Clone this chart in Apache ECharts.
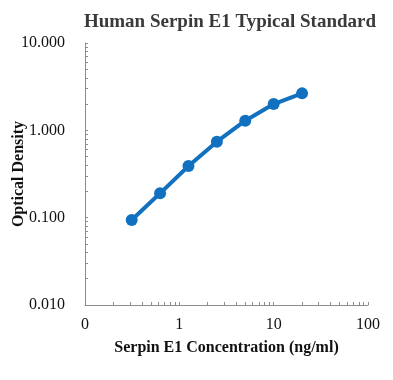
<!DOCTYPE html>
<html><head><meta charset="utf-8">
<script src="https://cdn.jsdelivr.net/npm/echarts@6/dist/echarts.min.js"></script>
<style>html,body{margin:0;padding:0;background:#fff}#c{width:393px;height:380px}</style>
</head><body><div id="c"></div>
<script>
const concentrations = [0.3125, 0.625, 1.25, 2.5, 5, 10, 20];
const opticalDensity = [0.094, 0.190, 0.390, 0.741, 1.29, 2.00, 2.65];
const xTickLabels = [0.1, 1, 10, 100];
const yTickLabels = [0.01, 0.1, 1, 10];

function minorTicks(lo, hi) {
  const out = [];
  for (let d = lo; d < hi * 0.999; d *= 10) {
    for (let k = 1; k <= 10; k++) out.push(+(d * k).toPrecision(6));
  }
  return Array.from(new Set(out));
}

const chart = echarts.init(document.getElementById('c'));
const serif = '"Liberation Serif","Times New Roman",serif';
chart.setOption({
  animation: false,
  title: {
    text: 'Human Serpin E1 Typical Standard',
    left: 225, top: 8, textAlign: 'center',
    textStyle: { fontFamily: serif, fontWeight: 'bold', fontSize: 19, color: '#3a3a3a' }
  },
  grid: { left: 85, right: 25, top: 43, bottom: 75, containLabel: false, outerBoundsMode: 'none' },
  xAxis: {
    type: 'log', logBase: 10, min: 0.1, max: 100,
    name: 'Serpin E1 Concentration (ng/ml)', nameLocation: 'middle', nameGap: 35, nameMoveOverlap: false,
    nameTextStyle: { fontFamily: serif, fontWeight: 'bold', fontSize: 16, color: '#111' },
    axisLine: { lineStyle: { color: '#8c8c8c', width: 1 } },
    axisTick: { show: true, inside: true, length: 3, customValues: minorTicks(0.1, 100), lineStyle: { color: '#8c8c8c' } },
    axisLabel: { customValues: xTickLabels, margin: 12, fontFamily: serif, fontSize: 16, color: '#111',
      formatter: v => (Math.abs(v - 0.1) < 1e-9 ? '0' : String(Math.round(v))) },
    splitLine: { show: false }, minorTick: { show: false }
  },
  yAxis: {
    type: 'log', logBase: 10, min: 0.01, max: 10,
    name: 'Optical Density', nameLocation: 'middle', nameGap: 58, nameMoveOverlap: false,
    nameTextStyle: { fontFamily: serif, fontWeight: 'bold', fontSize: 16, color: '#111' },
    axisLine: { show: true, lineStyle: { color: '#8c8c8c', width: 1 } },
    axisTick: { show: true, inside: true, length: 3, customValues: minorTicks(0.01, 10), lineStyle: { color: '#8c8c8c' } },
    axisLabel: { customValues: yTickLabels, margin: 20, fontFamily: serif, fontSize: 16, color: '#111',
      formatter: v => v.toFixed(3) },
    splitLine: { show: false }
  },
  series: [{
    type: 'line',
    data: concentrations.map((c, i) => [c, opticalDensity[i]]),
    symbol: 'circle', symbolSize: 12,
    lineStyle: { color: '#1170bf', width: 4 },
    itemStyle: { color: '#1170bf' }
  }]
});
</script></body></html>
